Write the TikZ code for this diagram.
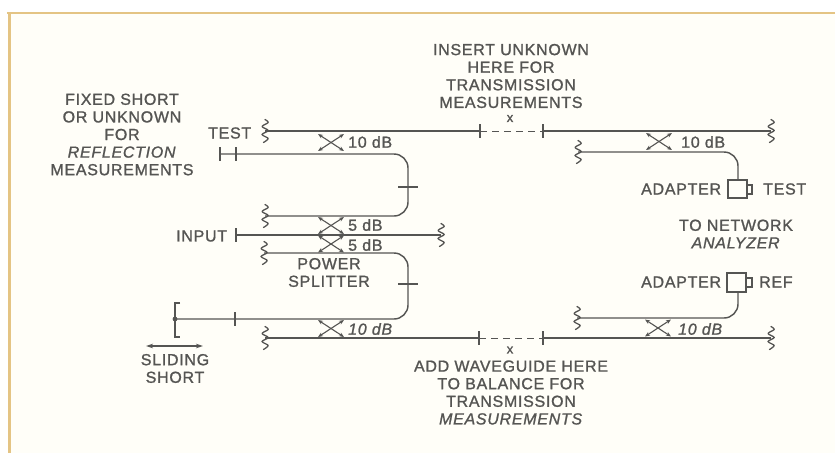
\documentclass[tikz,border=0pt]{standalone}
\usepackage{fontspec}
\setmainfont[LetterSpace=4.5,FakeBold=1.2]{Liberation Sans}
\usetikzlibrary{arrows.meta}
\definecolor{ink}{HTML}{555553}
\definecolor{frameor}{HTML}{E4C484}
\definecolor{paper}{HTML}{FFFEF8}
\tikzset{
  wire/.style={draw=ink,line width=1.05pt},
  curvew/.style={draw=ink,line width=1.45pt,rounded corners=14pt},
  thinw/.style={draw=ink,line width=1.1pt},
  dashw/.style={draw=ink,line width=1pt,dash pattern=on 7pt off 5pt},
  couple/.style={draw=ink,line width=1.1pt,{Stealth[length=5pt,width=4pt]}-{Stealth[length=5pt,width=4pt]}},
  lab/.style={text=ink,inner sep=0pt,align=center,font=\fontsize{16}{17.6}\selectfont},
  squig/.pic={\draw[draw=ink,line width=1.3pt,line cap=round,line join=round] plot[smooth,tension=0.5] coordinates {(0,-11.5) (3.2,-8.5) (-3,-4.5) (3.2,-0.5) (-3,3.5) (3.2,7.5) (-1.5,11.5)};},
  xcoup/.pic={\draw[couple] (-13,-8.5)--(13,8.5); \draw[couple] (-13,8.5)--(13,-8.5);},
  tick/.pic={\draw[thinw] (0,-7)--(0,7);},
  htick/.pic={\draw[thinw] (-10,0)--(10,0);}
}
\begin{document}
\begin{tikzpicture}[x=1pt,y=-1pt]
\useasboundingbox (0,0) rectangle (835,453);
\fill[white] (0,0) rectangle (835,453);
\fill[paper] (9,13) rectangle (835,453);
\fill[frameor] (7,12) rectangle (835,14);
\fill[frameor] (7.5,12) rectangle (10.5,453);
% named points
\coordinate (tl) at (265,131); \coordinate (ta) at (480,131); \coordinate (tb) at (543,131); \coordinate (tr) at (771,131);
\coordinate (sa) at (220,154); \coordinate (sb) at (236,154);
\coordinate (ua) at (408,154); \coordinate (ub) at (408,216); \coordinate (uc) at (265,216);
\coordinate (ia) at (236,235); \coordinate (ib) at (441,235);
\coordinate (la) at (264,253); \coordinate (lb) at (408,253); \coordinate (lc) at (408,319); \coordinate (ld) at (175,319);
\coordinate (bl) at (265,338); \coordinate (ba) at (479,338); \coordinate (bb) at (543,338); \coordinate (br) at (771,338);
\coordinate (ra) at (578,152); \coordinate (rb) at (738,152); \coordinate (rc) at (738,180);
\coordinate (qa) at (577,318); \coordinate (qb) at (738,318); \coordinate (qc) at (738,292);
\coordinate (sl) at (146,346); \coordinate (sr) at (203,346);
% lines
\draw[wire] (tl)--(ta); \draw[dashw] (ta)--(tb); \draw[wire] (tb)--(tr);
\draw[curvew] (sa)--(ua)--(ub)--(uc);
\draw[wire] (ia)--(ib);
\draw[curvew] (la)--(lb)--(lc)--(ld);
\draw[wire] (bl)--(ba); \draw[dashw] (ba)--(bb); \draw[wire] (bb)--(br);
\draw[curvew] (ra)--(rb)--(rc);
\draw[curvew] (qa)--(qb)--(qc);
% squiggles
\foreach \p in {tl,tr,uc,ib,la,bl,br,ra,qa} \pic at (\p) {squig};
% couplers
\pic at (331,142.5) {xcoup};
\pic at (331,225.5) {xcoup};
\pic at (331,244) {xcoup};
\pic at (331,328.5) {xcoup};
\pic at (659,141.5) {xcoup};
\pic at (658,328) {xcoup};
% ticks
\foreach \p in {sa,sb,ia,ta,tb,ba,bb} \pic at (\p) {tick};
\pic at (235,319) {tick};
\pic at (408,187) {htick};
\pic at (408,284) {htick};
% sliding short
\draw[thinw] (180,303)--(175,303)--(175,337)--(180,337);
\fill[ink] (ld) circle (2.4pt);
\draw[thinw,{Stealth[length=7pt,width=4.5pt]}-{Stealth[length=7pt,width=4.5pt]}] (sl)--(sr);
% adapters
\node[draw=ink,line width=1.3pt,minimum width=19pt,minimum height=18pt,inner sep=0pt] (adt) at (737.5,189) {};
\node[draw=ink,line width=1.3pt,minimum width=19pt,minimum height=19pt,inner sep=0pt] (adr) at (736.5,282.5) {};
\draw[thinw] (adt.east |- 0,185)--(752,185)--(752,194)--(adt.east |- 0,194);
\draw[thinw] (adr.east |- 0,278)--(752,278)--(752,287)--(adr.east |- 0,287);
% labels
\node[lab] (t1) at (511,76) {INSERT UNKNOWN\\HERE FOR\\TRANSMISSION\\MEASUREMENTS};
\node[lab,font=\fontsize{13}{14}\selectfont] (tx) at (510,118.5) {x};
\node[lab,font=\fontsize{13}{14}\selectfont] (bx) at (510,350) {x};
\node[lab] (t2) at (511,392.5) {ADD WAVEGUIDE HERE\\TO BALANCE FOR\\TRANSMISSION\\\textit{MEASUREMENTS}};
\node[lab] (t3) at (122,134.5) {FIXED SHORT\\OR UNKNOWN\\FOR\\\textit{REFLECTION}\\MEASUREMENTS};
\node[lab,anchor=west] (t4) at (208,133) {TEST};
\node[lab,anchor=west] (t5) at (176,236) {INPUT};
\node[lab] (t6) at (329,272.5) {POWER\\SPLITTER};
\node[lab] (t7) at (175,368.5) {SLIDING\\SHORT};
\node[lab] (t8) at (736,234) {TO NETWORK\\\textit{ANALYZER}};
\node[lab,anchor=west] (t9) at (641,189) {ADAPTER};
\node[lab,anchor=west] (t10) at (763,189) {TEST};
\node[lab,anchor=west] (t11) at (641,282) {ADAPTER};
\node[lab,anchor=west] (t12) at (759,282) {REF};
\node[lab,anchor=west] (d1) at (348,142) {10 dB};
\node[lab,anchor=west] (d2) at (348,225) {5 dB};
\node[lab,anchor=west] (d3) at (348,245) {5 dB};
\node[lab,anchor=west] (d4) at (348,329) {\textit{10 dB}};
\node[lab,anchor=west] (d5) at (681,142) {10 dB};
\node[lab,anchor=west] (d6) at (678,329) {\textit{10 dB}};
\end{tikzpicture}
\end{document}
